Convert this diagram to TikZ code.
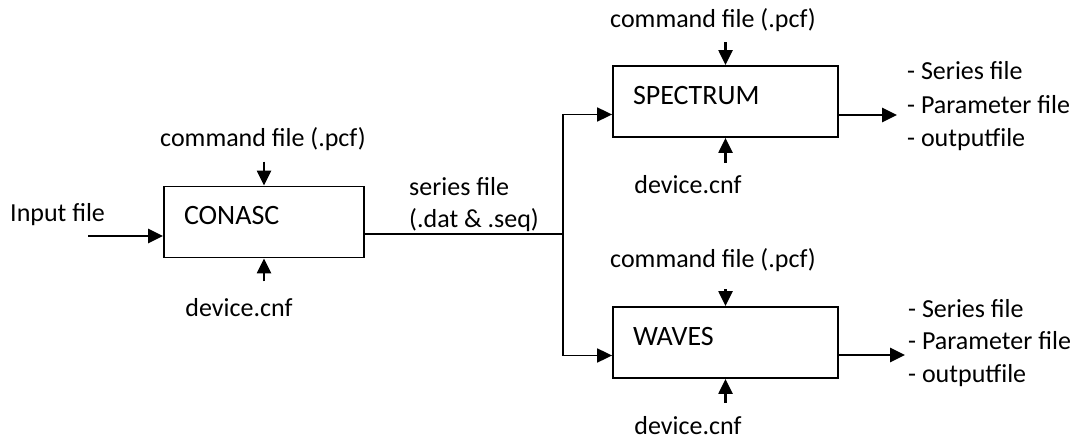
\documentclass[tikz,border=0pt]{standalone}
\usepackage{fontspec}
\setmainfont{Carlito}
\usetikzlibrary{arrows.meta,scopes}
\begin{document}
\begin{tikzpicture}[x=1pt,y=1pt,
    procbox/.style={draw,line width=1.8pt,align=left,inner xsep=20pt,
      text height=18pt,text depth=12pt,minimum height=71pt,
      font=\fontsize{28}{34}\selectfont},
    feed/.style={line width=2.3pt,-{Triangle[length=15pt,width=14pt]}},
    bus/.style={line width=1.8pt}]
  \useasboundingbox (0,0) rectangle (1078,439);
  \node [procbox,text width=160pt] (conasc) at (264,217) {CONASC};
  \node [procbox,text width=185pt] (spectrum) at (725.5,337.5) {SPECTRUM};
  \node [procbox,text width=185pt] (waves) at (725.5,96.5) {WAVES};
  { [every node/.style={font=\fontsize{26}{32}\selectfont,inner sep=0pt,anchor=base}]
    \node [anchor=base west] (input) at (10,217) {Input file};
    \node (cmdconasc) at (263,292) {command file (.pcf)};
    \node (devconasc) at (239,122) {device.cnf};
    \node [anchor=base west,align=left] (series) at (409,211) {series file\\(.dat \& .seq)};
    \node (cmdspectrum) at (713,411) {command file (.pcf)};
    \node (devspectrum) at (688,245) {device.cnf};
    \node (cmdwaves) at (713,171) {command file (.pcf)};
    \node (devwaves) at (688,5) {device.cnf};
    \node [anchor=base west,align=left,font=\fontsize{26}{33.5}\selectfont]
      (outspectrum) at (907,292) {- Series file\\- Parameter file\\- outputfile};
    \node [anchor=base west,align=left]
      (outwaves) at (908,57) {- Series file\\- Parameter file\\- outputfile};
  }
  \coordinate (inp) at (88,203);
  \coordinate (split) at (563,205);
  \draw [feed,line width=2.6pt] (inp) -- (inp -| conasc.west);
  \draw [bus] (conasc.east |- split) -- (split);
  \draw [bus,-{Triangle[length=15pt,width=14pt]}] (split) |- ([yshift=-13pt]spectrum.west);
  \draw [bus,-{Triangle[length=15pt,width=14pt]}] (split) |- ([yshift=-13pt]waves.west);
  { [shift={(-25pt,0)}]
    \draw [feed] ([yshift=24pt]conasc.north) -- (conasc.north);
    \draw [feed] ([yshift=-23pt]conasc.south) -- (conasc.south);
  }
  { [shift={(-37.5pt,0)}]
    \draw [feed] ([yshift=23pt]spectrum.north) -- (spectrum.north);
    \draw [feed] ([yshift=-25pt]spectrum.south) -- (spectrum.south);
    \draw [feed] ([yshift=17pt]waves.north) -- (waves.north);
    \draw [feed] ([yshift=-24pt]waves.south) -- (waves.south);
  }
  \coordinate (sout) at (897,324);
  \coordinate (wout) at (905,84);
  \draw [feed,line width=2.8pt] (sout -| spectrum.east) -- (sout);
  \draw [feed,line width=2.8pt] (wout -| waves.east) -- (wout);
\end{tikzpicture}
\end{document}
